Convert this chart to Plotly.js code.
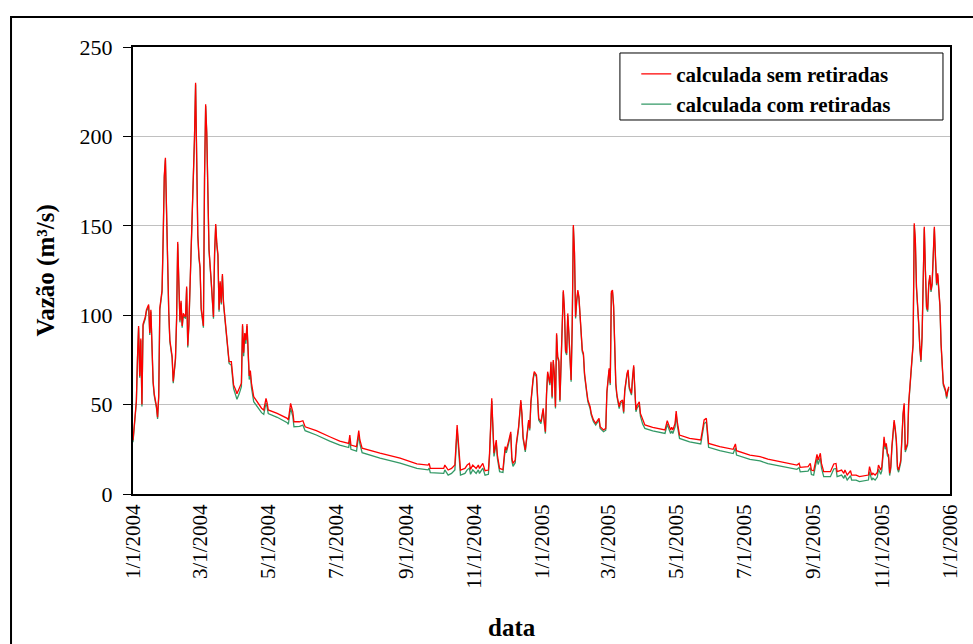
<!DOCTYPE html>
<html>
<head>
<meta charset="utf-8">
<script src="https://cdn.plot.ly/plotly-3.0.1.min.js"></script>
<style>
html,body{margin:0;padding:0;background:#fff;}
#chart{width:973px;height:644px;}
</style>
</head>
<body>
<div id="chart"></div>
<script>
// Day offsets from 1/1/2004
var dayOffsets = [0,1,3,4,5,6,7,8,9,11,12,14,15,16,17,18,19,21,22,23,24,26,27,28,29,30,31,32,33,35,36,38,39,40,41,42,43,44,45,47,48,49,50,51,53,54,55,56,57,58,59,60,61,63,64,65,66,67,68,70,71,72,73,74,75,76,77,78,79,80,81,83,84,85,86,88,89,90,92,93,95,97,98,99,100,101,102,103,104,105,106,108,111,115,117,119,120,121,129,138,139,141,143,144,149,152,154,164,176,185,193,194,195,200,202,203,205,215,221,239,254,264,265,266,278,279,282,285,288,290,291,292,293,297,299,301,302,304,307,309,310,313,315,318,319,321,323,325,326,328,331,333,334,336,338,339,340,342,343,345,347,348,349,351,352,354,355,356,358,359,361,362,363,365,367,368,369,370,371,373,374,375,376,377,378,379,380,381,382,383,384,385,386,387,388,389,390,391,392,393,394,395,396,397,398,399,400,401,402,403,404,406,407,409,410,412,414,416,417,418,421,423,424,426,427,428,429,430,431,432,433,435,436,438,439,440,442,443,444,446,447,448,449,450,451,453,454,456,458,465,476,478,480,481,482,483,485,486,487,489,498,508,510,511,513,514,515,525,537,539,540,552,561,568,576,594,596,597,604,606,607,609,612,613,615,616,618,624,627,629,630,634,636,637,639,642,643,647,650,653,658,659,661,662,664,666,667,669,670,671,672,673,674,675,676,677,678,679,680,681,682,683,684,685,687,688,689,690,691,692,693,694,696,697,698,699,700,701,702,703,704,705,706,707,708,709,710,711,712,713,714,715,716,717,718,719,720,721,722,723,724,725,727,728,729,730];

var semRetiradas = [30,38,52,76,94,66,87,50,95,99,103,106,90,103,75,63,56,49,43,55,104,114,144,178,188,160,118,102,86,77,63,76,98,141,119,97,108,94,101,99,116,83,95,115,151,167,199,230,167,145,133,127,104,94,177,218,202,168,137,119,109,99,135,151,140,134,103,119,107,123,107,95,90,84,74,74,67,61,58,56,59,62,95,79,90,86,95,75,66,69,62,54.4,51.6,48,47,53.5,51,47,45.1,42.3,41.4,50.7,46,40.4,40.4,41,37.6,35.4,32,29.6,28.3,33,27.4,26.5,35.4,30.2,25.6,23.8,22.8,20,16.8,16.2,17.1,14.3,14.3,16.2,13.4,14.3,16.2,38.6,29.3,17.1,13.4,14.3,16.2,17.1,13.8,16.2,14.3,16.2,14.3,17.1,13,13.4,22.8,53.5,22.8,30.2,21.8,14.3,13.6,26.5,24.6,29.3,34.8,20,17.1,19,28.3,37.6,52.6,45.1,32,24.6,30.2,41.4,36.7,51.6,64.7,68.4,66.6,56.3,42.3,40.4,47.9,40.4,34.8,56.3,68.4,61.9,74,54.4,74.9,67.5,48.8,89.9,76.8,74.9,52.6,73.1,103,114,103.8,80.5,78.7,101,89.9,71.2,63.8,95.5,150.5,135.5,99.2,108.5,114,110.3,101,93.6,80.5,78.7,67.5,57.2,52.6,48.8,45.1,41.4,39.5,41.4,42.3,37.6,35.8,36.7,57.2,70.3,61.9,113.1,114,105.7,82.4,61.9,55.4,48.8,51.6,52.6,46,58.2,67.5,69.4,60,56.3,65.6,72,59,47,49.5,51.6,45.1,41.4,38.6,37.3,35.8,41,37.6,35.8,37.3,35.8,39.5,46.4,40.4,33,31.1,30.2,37.6,41.4,42.3,35.8,28.3,26.5,25,28,24.2,21.8,20.9,19.5,18.6,16.2,17.1,14.9,15.3,17.1,13.4,13,22.2,19,22.8,17.1,12.5,12.5,16.8,17.1,12.5,13.4,11.6,13.4,10.6,13,10.6,10.6,9.7,10.1,10.6,15.3,10.6,11.6,10.6,12,16.2,13.4,15.3,22.8,32,26.5,28.3,22.8,21.8,11.6,15.3,26.5,35.8,41.4,36.7,30.2,15.3,13.4,19,37.6,45.1,50.7,24.6,26.5,28.3,50.7,68.4,73.1,84.3,151.4,142,116,101,95.5,82.4,74.9,88,123.4,149.5,125.3,104.8,103,117.8,122.5,114,117.8,132.7,149.5,132.7,117.8,123.4,112.3,105.7,84.3,74,61.9,58.2,54.4,58.2,60];

var comRetiradas = [29,37,51,75,93,65,86,49,94,98,102,105,89,102,74,62,55,48,42,54,103,113,143,177,187,159,117,101,85,76,62,75,97,140,118,96,107,93,100,98,115,82,94,114,150,166,198,229,166,144,132,126,103,93,176,217,201,167,136,118,108,98,134,150,139,133,102,118,106,122,106,94,89,83,73,72,65,59,55,53,56,60,94,77,89,84,94,73,64,67,59.5,51.6,49,45.5,44.5,51,48.5,45,42.9,39.9,39,48,43.5,37.6,37.8,38.5,35.4,33,29.6,27.4,26,31,25,24,33,28,23.1,21,20,17.3,14.3,13.5,14.5,12,11.5,13.5,10.6,11.5,13.5,36,26.5,14.5,10.6,11.5,13.5,14.5,11,13.5,11.5,13.5,11.5,14.5,10.5,11,21,52,21,28.5,20,12.5,12,25,23,28,33.5,18.5,15.5,17.5,27,36.5,51.5,44,31,23.5,29,40.5,35.5,50.5,63.7,67.4,65.6,55.3,41.3,39.4,46.9,39.4,33.8,55.3,67.4,60.9,73,53.4,73.9,66.5,47.8,88.9,75.8,73.9,51.6,72.1,102,113,102.8,79.5,77.7,100,88.9,70.2,62.8,94.5,149.5,134.5,98.2,107.5,113,109.3,100,92.6,79.5,77.7,66.5,56.2,51.6,47.8,44.1,40.4,38.5,40.4,41.3,36.6,34.8,35.7,56.2,69.3,60.9,112.1,113,104.7,81.4,60.9,54.4,47.8,50.6,51.6,45,57.2,66.5,68.4,59,55.3,64.6,71,58,46,48,50,43.5,39.1,36.7,35.3,33.9,39,35.5,33.8,35.3,33.8,37.5,44.5,38.5,31.1,29.2,28,35.5,39.4,40.3,33.8,26.1,24.2,22.6,25.8,21.8,19.4,18.5,17,16,13.8,14.8,12.4,12.8,14.8,10.9,10.5,19.8,16.5,20.3,14.6,9.7,9.7,14,14.3,9.7,10.6,8.8,10.6,7.8,10.2,7.8,7.8,6.9,7.4,7.8,12.5,7.8,8.8,7.8,9.5,14,11,13,21,30.5,25,27,21.5,20.5,10.3,14,25.3,34.6,40.2,35.5,29,14,12.2,17.8,36.5,44,49.6,23.5,25.4,27.2,49.7,67.4,72.1,83.3,150.4,141,115,100,94.5,81.4,73.9,87,122.4,148.5,124.3,103.8,102,116.8,121.5,113,116.8,131.7,148.5,131.7,116.8,122.4,111.3,104.7,83.3,73,60.9,57.2,53.4,57.2,59];

var tickDates = ['2004-01-01','2004-03-01','2004-05-01','2004-07-01','2004-09-01','2004-11-01','2005-01-01','2005-03-01','2005-05-01','2005-07-01','2005-09-01','2005-11-01','2006-01-01'];
var tickLabels = ['1/1/2004','3/1/2004','5/1/2004','7/1/2004','9/1/2004','11/1/2004','1/1/2005','3/1/2005','5/1/2005','7/1/2005','9/1/2005','11/1/2005','1/1/2006'];
var seriesNames = ['calculada sem retiradas','calculada com retiradas'];

var base = Date.UTC(2004,0,1);
var dates = dayOffsets.map(function(d){ return new Date(base + d*86400000).toISOString().slice(0,10); });

var SERIF = '"Liberation Serif", "Times New Roman", serif';

var traces = [
  {x: dates, y: comRetiradas, type:'scatter', mode:'lines', name: seriesNames[1],
   line:{color:'#339966', width:1.3}},
  {x: dates, y: semRetiradas, type:'scatter', mode:'lines', name: seriesNames[0],
   line:{color:'#ff0000', width:1.3}}
];

var layout = {
  width:973, height:644,
  margin:{l:133, r:23, t:47, b:150},
  paper_bgcolor:'#ffffff', plot_bgcolor:'#ffffff',
  showlegend:true,
  legend:{x:0.616, y:0.985, xanchor:'left', yanchor:'top', traceorder:'reversed',
          bgcolor:'rgba(0,0,0,0)', borderwidth:0,
          font:{family:SERIF, size:21, color:'#000', weight:'bold'}},
  xaxis:{type:'date', range:['2004-01-01','2006-01-01'], tickmode:'array',
         tickvals:tickDates, ticktext:tickLabels, tickangle:-90,
         tickfont:{family:SERIF, size:21, color:'#000'},
         showgrid:false, zeroline:false, showline:true, linecolor:'#000', linewidth:2,
         mirror:true, ticks:'', fixedrange:true},
  yaxis:{range:[0,250], dtick:50, tick0:0,
         tickfont:{family:SERIF, size:22, color:'#000'},
         showgrid:true, gridcolor:'#c0c0c0', gridwidth:1, zeroline:false,
         showline:true, linecolor:'#000', linewidth:2, mirror:true,
         ticks:'outside', ticklen:8, tickcolor:'#000', tickwidth:1,
         ticklabelstandoff:6, fixedrange:true},
  annotations:[
    {text:'Vazão (m³/s)', xref:'paper', yref:'paper', x:-0.1077, y:0.5, textangle:-90,
     showarrow:false, xanchor:'center', yanchor:'middle',
     font:{family:SERIF, size:25, color:'#000', weight:'bold'}},
    {text:'data', xref:'paper', yref:'paper', x:0.464, y:-0.298,
     showarrow:false, xanchor:'center', yanchor:'middle',
     font:{family:SERIF, size:25, color:'#000', weight:'bold'}}
  ],
  shapes:[
    {type:'rect', xref:'paper', yref:'paper', x0:-0.1493, x1:1.04, y0:-0.4, y1:1.067,
     line:{color:'#000', width:2}, fillcolor:'rgba(0,0,0,0)'},
    {type:'rect', xref:'paper', yref:'paper', x0:0.596, x1:0.9914, y0:0.8367, y1:0.9866,
     line:{color:'#000', width:1}, fillcolor:'#ffffff', layer:'below'}
  ]
};

Plotly.newPlot('chart', traces, layout, {displayModeBar:false, staticPlot:true});
</script>
</body>
</html>
